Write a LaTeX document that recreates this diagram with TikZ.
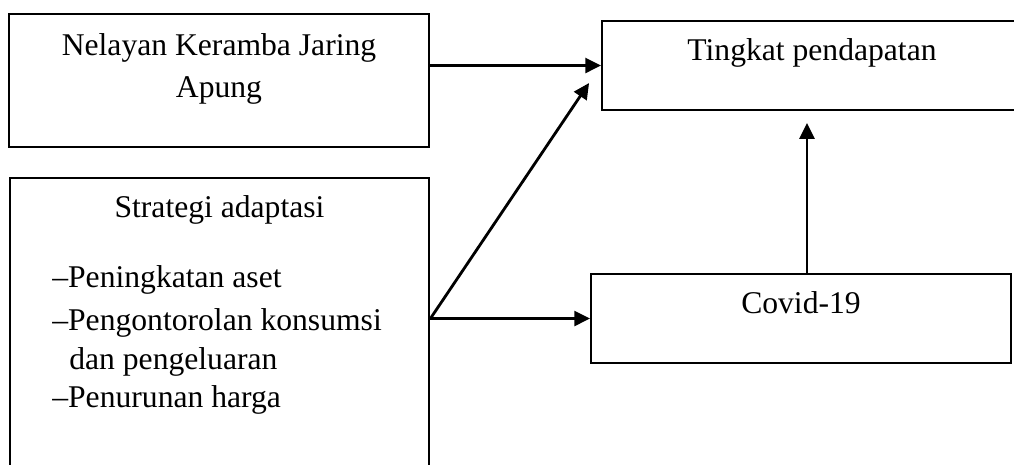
\documentclass[tikz,border=0pt]{standalone}
\usepackage{fontspec}
\setmainfont{Liberation Serif}
\usetikzlibrary{arrows.meta}

\begin{document}
\begin{tikzpicture}[x=0.02cm, y=-0.02cm,
  box/.style={draw, line width=1.1pt, minimum width=8.4cm, inner sep=0},
  txt/.style={inner sep=0, font=\fontsize{18}{22}\selectfont},
  conn/.style={line width=1.6pt, -{Triangle[length=9pt, width=8.5pt]}}]
\useasboundingbox (0,0) rectangle (1014,464);

\node[box, minimum height=2.66cm] (nel) at (219,80.5) {};
\node[box, minimum height=1.78cm] (tingkat) at (812,65.5) {};
\node[box, minimum height=6.24cm] (strat) at (219.5,334) {};
\node[box, minimum height=1.78cm] (covid) at (801,318.5) {};

\node[txt, anchor=base] (nelA) at (219,55) {Nelayan Keramba Jaring};
\node[txt, anchor=base] (nelB) at (219,97) {Apung};
\node[txt, anchor=base] (tingkatT) at (812,60) {Tingkat pendapatan};
\node[txt, anchor=base] (covidT) at (801,313) {Covid-19};
\node[txt, anchor=base] (stratT) at (219.5,217) {Strategi adaptasi};
\node[txt, anchor=base west] (itemA) at (52,287) {–Peningkatan aset};
\node[txt, anchor=base west] (itemB) at (52,330) {–Pengontorolan konsumsi};
\node[txt, anchor=base west] (itemC) at (69,369) {dan pengeluaran};
\node[txt, anchor=base west] (itemD) at (52,407) {–Penurunan harga};

\coordinate (tip) at ([shift={(-12,17.5)}]tingkat.west);
\draw[conn] (nel.east |- tingkat.west) -- (tingkat.west);
\draw[conn] (strat.east |- covid.west) -- (tip);
\draw[conn] (strat.east |- covid.west) -- (covid.west);
\draw[conn] ([shift={(6,0)}]covid.north) -- ([shift={(-5,12)}]tingkat.south);
\end{tikzpicture}
\end{document}
